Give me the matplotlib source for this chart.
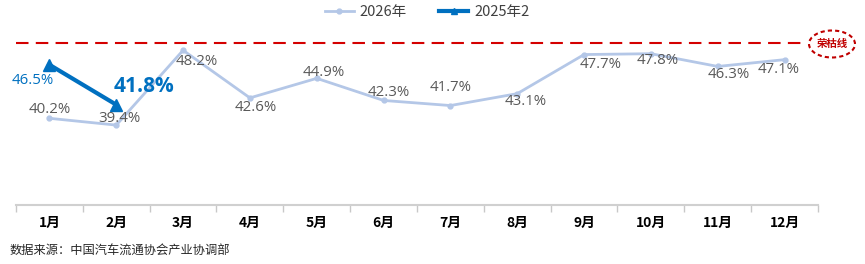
import matplotlib
matplotlib.use("Agg")
import matplotlib.pyplot as plt
from matplotlib.patches import Ellipse
from matplotlib.lines import Line2D

plt.rcParams['font.family'] = ['Noto Sans CJK SC', 'DejaVu Sans']

months = ['1月', '2月', '3月', '4月', '5月', '6月', '7月', '8月', '9月', '10月', '11月', '12月']
s2026 = [40.2, 39.4, 48.2, 42.6, 44.9, 42.3, 41.7, 43.1, 47.7, 47.8, 46.3, 47.1]
s2025 = [46.5, 41.8]
line_value = 49.1
label_2026 = '2026年'
label_2025 = '2025年2'
line_text = '荣枯线'
source = '数据来源：中国汽车流通协会产业协调部'

# label offsets in points (styling)
off2026 = [(0, 6), (2, 5), (10, -8), (4, -7), (5, 4), (4, 6), (0, 13), (6, -6),
           (12, -7), (5, -5), (8, -6), (-4, -7)]

numfont = ['Open Sans', 'Noto Sans CJK SC']

fig = plt.figure(figsize=(8.65, 2.64), dpi=100)
ax = fig.add_axes([16/865, 1-205/264, (818-16)/865, 170/264])
x = list(range(len(months)))
ax.set_xlim(-0.5, 11.5)
ax.set_ylim(30, 50)

c26 = '#B4C7E7'
c25 = '#0070C0'
ax.plot(x, s2026, color=c26, lw=2, marker='o', ms=3.5, zorder=3)
ax.plot(x[:len(s2025)], s2025, color=c25, lw=3, marker='^', ms=9, zorder=4)

for xi, v, (dx, dy) in zip(x, s2026, off2026):
    ax.annotate(f'{v:.1f}%', (xi, v), xytext=(dx, dy), textcoords='offset points',
                ha='center', va='center', fontsize=10.8, color='#595959', zorder=5,
                family=numfont)
ax.annotate(f'{s2025[0]:.1f}%', (0, s2025[0]), xytext=(-12, -11), textcoords='offset points',
            ha='center', va='center', fontsize=10.8, color=c25, family=numfont)
ax.annotate(f'{s2025[1]:.1f}%', (1, s2025[1]), xytext=(20, 13), textcoords='offset points',
            ha='center', va='center', fontsize=15, fontweight='bold', color=c25,
            family=numfont)

ax.axhline(line_value, xmin=0, xmax=(805-16)/(818-16), color='#D40000', lw=1.5,
           dashes=(6, 3.5), clip_on=False)

for s in ['top', 'right', 'left']:
    ax.spines[s].set_visible(False)
ax.spines['bottom'].set_color('#D0D0D0')
ax.spines['bottom'].set_linewidth(1.5)
ax.set_yticks([])
ax.set_xticks(x)
ax.set_xticklabels(months, fontsize=10, fontweight='bold', color='#000000')
ax.tick_params(axis='x', which='major', length=0, pad=8)
ax.set_xticks([i - 0.5 for i in range(len(months) + 1)], minor=True)
ax.tick_params(axis='x', which='minor', length=5, color='#C8C8C8', width=1)

handles = [Line2D([], [], color=c26, lw=2, marker='o', ms=3.5),
           Line2D([], [], color=c25, lw=3, marker='^', ms=5)]
fig.legend(handles, [label_2026, label_2025], loc='center', bbox_to_anchor=(427/865, 1-12/264),
           ncol=2, frameon=False, fontsize=10.5, handlelength=2.0, columnspacing=2.2,
           labelcolor='#404040', handletextpad=0.4)

fig.patches.append(Ellipse((832/865, 1-44/264), 46/865, 27/264, transform=fig.transFigure,
                           fill=False, edgecolor='#C00000', lw=1.5, ls=(0, (2, 1.5))))
fig.text(832/865, 1-44/264, line_text, ha='center', va='center', fontsize=7.5,
         fontweight='bold', color='#C00000')
fig.text(10/865, 1-250/264, source, ha='left', va='center', fontsize=8.8, color='#262626')

fig.savefig('out.png', dpi=100)
